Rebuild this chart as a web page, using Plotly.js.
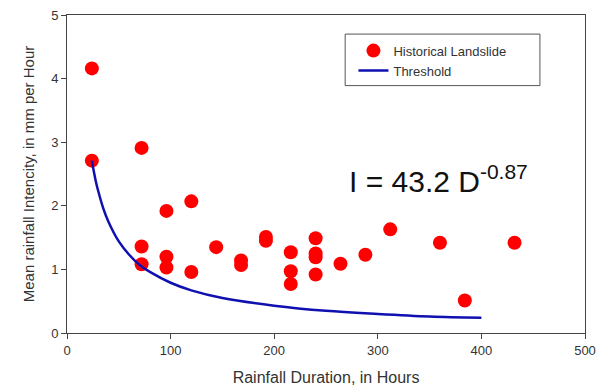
<!DOCTYPE html>
<html>
<head>
<meta charset="utf-8">
<script src="https://cdn.plot.ly/plotly-3.0.1.min.js"></script>
<style>html,body{margin:0;padding:0;background:#fff;}#chart{width:610px;height:387px;}</style>
</head>
<body>
<div id="chart"></div>
<script>
// Historical landslide events: duration (hours) and mean intensity (mm/h)
const landslideDuration = [24, 24, 72, 72, 72, 96, 96, 96, 120, 120, 144, 168, 168, 192, 192, 216, 216, 216, 240, 240, 240, 240, 264, 288, 312, 360, 384, 432];
const landslideIntensity = [4.16, 2.71, 2.91, 1.36, 1.08, 1.92, 1.20, 1.03, 2.07, 0.96, 1.35, 1.14, 1.07, 1.51, 1.45, 1.27, 0.97, 0.77, 1.49, 1.25, 1.19, 0.92, 1.09, 1.23, 1.63, 1.42, 0.51, 1.42];

// Threshold curve
const thresholdDuration = [24, 26, 28, 30, 35, 40, 50, 60, 70, 80, 100, 120, 150, 200, 250, 300, 350, 400];
const thresholdIntensity = [2.71, 2.53, 2.37, 2.24, 1.96, 1.75, 1.44, 1.23, 1.07, 0.96, 0.79, 0.67, 0.55, 0.43, 0.35, 0.30, 0.26, 0.24];

const xTicks = [0, 100, 200, 300, 400, 500];
const yTicks = [0, 1, 2, 3, 4, 5];

const FONT = 'Liberation Sans, Arial, sans-serif';

const traces = [
  {
    x: landslideDuration, y: landslideIntensity,
    type: 'scatter', mode: 'markers', name: 'Historical Landslide',
    marker: {color: '#ff0000', size: 14, line: {width: 0}}
  },
  {
    x: thresholdDuration, y: thresholdIntensity,
    type: 'scatter', mode: 'lines', name: 'Threshold',
    line: {color: '#1010b0', width: 2.5, shape: 'spline'}
  }
];

const axisCommon = {
  showgrid: false, zeroline: false,
  showline: true, linecolor: '#444', linewidth: 1, mirror: true,
  ticks: 'outside', ticklen: 5, tickcolor: '#444',
  tickfont: {family: FONT, size: 13, color: '#333'}
};

const layout = {
  width: 610, height: 387,
  margin: {l: 67, r: 25, t: 15, b: 54},
  paper_bgcolor: '#fff', plot_bgcolor: '#fff',
  font: {family: FONT, color: '#333'},
  showlegend: true,
  legend: {
    x: 0.553, y: 0.935, xanchor: 'left', yanchor: 'top',
    bgcolor: 'rgba(0,0,0,0)', borderwidth: 0,
    font: {family: FONT, size: 13, color: '#333'},
    tracegroupgap: 0
  },
  xaxis: Object.assign({}, axisCommon, {
    range: [0, 500], tickvals: xTicks, ticktext: xTicks.map(String),
    title: {text: 'Rainfall Duration, in Hours', font: {family: FONT, size: 16, color: '#333'}, standoff: 15}
  }),
  yaxis: Object.assign({}, axisCommon, {
    range: [0, 5], tickvals: yTicks, ticktext: yTicks.map(String),
    title: {text: 'Mean rainfall Intencity, in mm per Hour', font: {family: FONT, size: 15, color: '#333'}, standoff: 12}
  }),
  shapes: [
    {type: 'rect', xref: 'paper', yref: 'paper',
     x0: 0.537, x1: 0.913, y0: 0.778, y1: 0.94,
     line: {color: '#555', width: 1}, fillcolor: 'rgba(0,0,0,0)'}
  ],
  annotations: [
    {xref: 'paper', yref: 'paper', x: 0.54, y: 0.417, xanchor: 'left', yanchor: 'bottom',
     text: 'I = 43.2 D<sup>-0.87</sup>', showarrow: false,
     font: {family: FONT, size: 30, color: '#111'}}
  ]
};

Plotly.newPlot('chart', traces, layout, {displayModeBar: false, staticPlot: true});
</script>
</body>
</html>
